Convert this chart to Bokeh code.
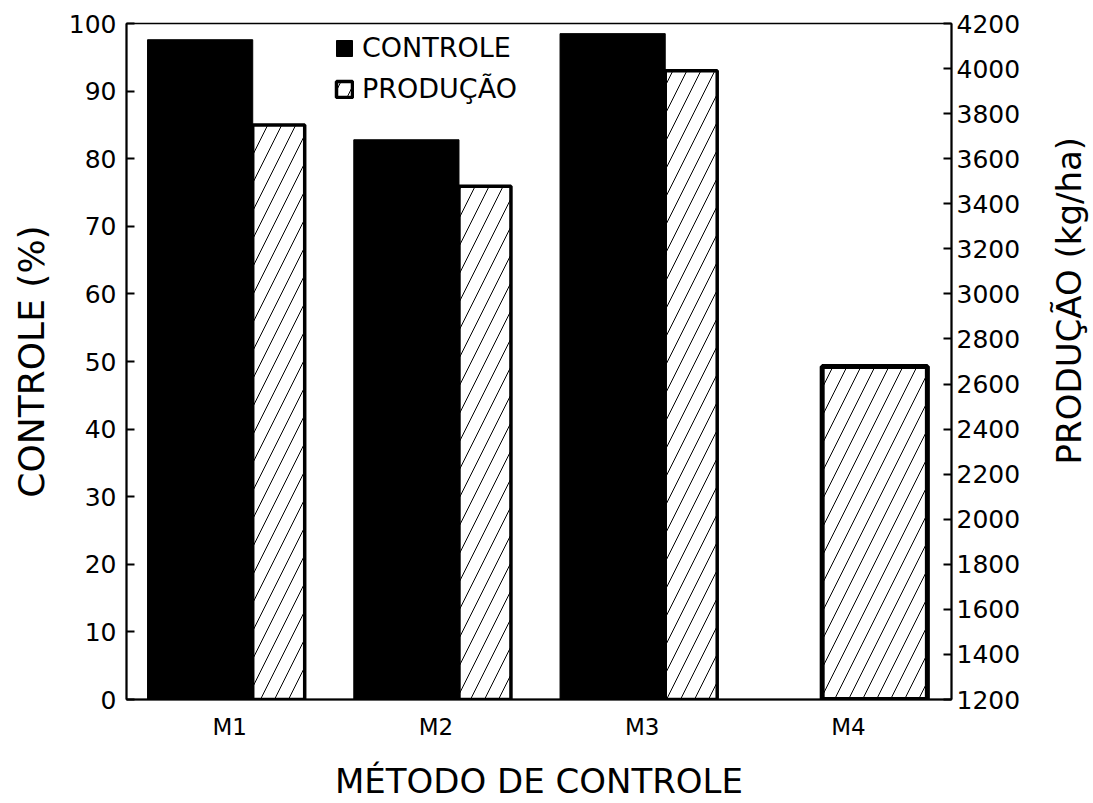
import math
from bokeh.plotting import figure
from bokeh.layouts import row
from bokeh.models import (ColumnDataSource, Range1d, LinearAxis, FixedTicker,
                          Legend, LegendItem, FactorRange)
from bokeh.core.properties import value
from bokeh.transform import dodge
from bokeh.embed import file_html
from bokeh.resources import INLINE

# ---- data ----
metodos = ["M1", "M2", "M3", "M4"]
controle = [97.6, 82.8, 98.5, 0.0]          # CONTROLE (%)
producao = [3750, 3478, 3990, 2678]         # PRODUÇÃO (kg/ha)
ticks_controle = list(range(0, 101, 10))
ticks_producao = list(range(1200, 4201, 200))
titulo_direita = ["PRODUÇÃO (kg/ha)"]

FONT = "DejaVu Sans"
FRAME_W, FRAME_H = 825, 676
TOP, BOTTOM = 23, 102
STRIP_W = 66

with_c = [i for i, c in enumerate(controle) if c > 0]
without_c = [i for i, c in enumerate(controle) if c <= 0]

src_c = ColumnDataSource(dict(m=[metodos[i] for i in with_c], v=[controle[i] for i in with_c]))
src_p = ColumnDataSource(dict(m=[metodos[i] for i in with_c], v=[producao[i] for i in with_c]))
src_p4 = ColumnDataSource(dict(m=[metodos[i] for i in without_c], v=[producao[i] for i in without_c]))

p = figure(x_range=FactorRange(*metodos, range_padding=0),
           y_range=Range1d(ticks_controle[0], ticks_controle[-1]),
           frame_width=FRAME_W, frame_height=FRAME_H,
           min_border_left=126, min_border_right=74,
           min_border_top=TOP, min_border_bottom=BOTTOM,
           output_backend="svg", toolbar_location=None)
p.extra_y_ranges = {"prod": Range1d(ticks_producao[0], ticks_producao[-1])}

rc = p.vbar(x=dodge("m", -0.143, range=p.x_range), top="v", width=0.51, source=src_c,
            fill_color="black", line_color="black", line_width=1)

hatch = dict(fill_color="white", hatch_pattern="/", hatch_color="black",
             hatch_scale=28, hatch_weight=1, line_color="black")
rp = p.vbar(x=dodge("m", 0.238, range=p.x_range), bottom=ticks_producao[0], top="v",
            width=0.252, source=src_p, y_range_name="prod", line_width=3.5, **hatch)
rp4 = p.vbar(x=dodge("m", 0.128, range=p.x_range), bottom=ticks_producao[0], top="v",
             width=0.51, source=src_p4, y_range_name="prod", line_width=5, **hatch)

# axes
p.grid.visible = False
p.outline_line_color = "black"
p.outline_line_width = 1.5

ya = p.yaxis[0]
ya.ticker = FixedTicker(ticks=ticks_controle)
ya.axis_label = "CONTROLE (%)"

ry = LinearAxis(y_range_name="prod", ticker=FixedTicker(ticks=ticks_producao))
p.add_layout(ry, "right")

for ax in (ya, ry):
    ax.major_tick_in = 8
    ax.major_tick_out = 0
    ax.minor_tick_line_color = None
    ax.axis_line_width = 2
    ax.major_tick_line_width = 2
    ax.major_label_text_font = FONT
    ax.major_label_text_font_size = "25px"
    ax.axis_label_text_font = FONT
    ax.axis_label_text_font_size = "36px"
    ax.axis_label_text_font_style = "normal"
    ax.axis_label_text_color = "black"
    ax.major_label_text_color = "black"
ya.major_label_standoff = 10
ya.axis_label_standoff = 14
ry.major_label_standoff = 5

xa = p.xaxis[0]
xa.axis_label = "MÉTODO DE CONTROLE"
xa.major_tick_in = 0
xa.major_tick_out = 0
xa.axis_line_width = 2
xa.major_label_text_font = FONT
xa.major_label_text_font_size = "23px"
xa.major_label_standoff = 14
xa.major_label_text_color = "black"
xa.axis_label_text_font = FONT
xa.axis_label_text_font_size = "34px"
xa.axis_label_text_font_style = "normal"
xa.axis_label_text_color = "black"
xa.axis_label_standoff = 18

legend = Legend(items=[LegendItem(label="CONTROLE", renderers=[rc]),
                       LegendItem(label="PRODUÇÃO", renderers=[rp])],
                location=(208, 595),
                label_text_font=FONT, label_text_font_size="27px",
                label_text_color="black",
                glyph_width=20, glyph_height=20, label_standoff=8,
                spacing=10, padding=0, margin=0,
                border_line_color=None, background_fill_alpha=0)
p.add_layout(legend)

# narrow strip to the right holding the right-hand title, read bottom-to-top
p2 = figure(x_range=Range1d(0, STRIP_W), y_range=p.y_range,
            frame_width=STRIP_W, frame_height=FRAME_H,
            min_border_left=0, min_border_right=0,
            min_border_top=TOP, min_border_bottom=BOTTOM,
            x_axis_location=None, y_axis_location=None,
            output_backend="svg", toolbar_location=None)
p2.grid.visible = False
p2.outline_line_color = None
p2.text(x=[STRIP_W - 23], y=[59], text=titulo_direita, angle=math.pi / 2,
        text_align="center", text_baseline="alphabetic",
        text_font=value(FONT), text_font_size="34px", text_color="black")

layout = row(p, p2, spacing=0)
open("out.html", "w").write(file_html(layout, INLINE))
